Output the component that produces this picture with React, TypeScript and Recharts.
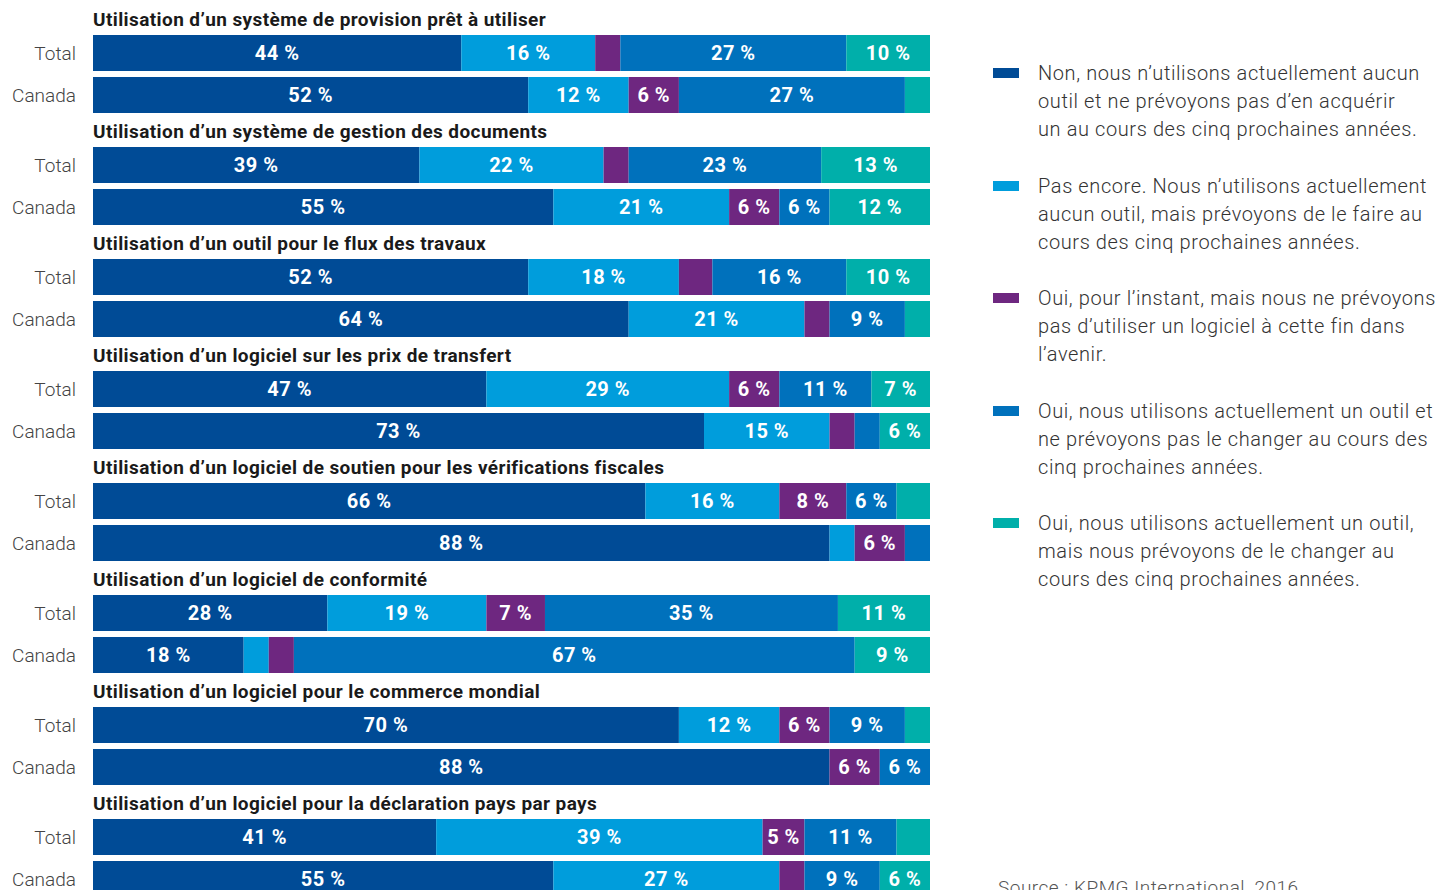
import { BarChart, Bar, XAxis, YAxis, LabelList } from 'recharts';

const titles = [
  'Utilisation d’un système de provision prêt à utiliser',
  'Utilisation d’un système de gestion des documents',
  'Utilisation d’un outil pour le flux des travaux',
  'Utilisation d’un logiciel sur les prix de transfert',
  'Utilisation d’un logiciel de soutien pour les vérifications fiscales',
  'Utilisation d’un logiciel de conformité',
  'Utilisation d’un logiciel pour le commerce mondial',
  'Utilisation d’un logiciel pour la déclaration pays par pays',
];

const rowNames = ['Total', 'Canada'];

// one value per bar, in order: group 1 Total, group 1 Canada, group 2 Total, ...
const non = [44, 52, 39, 55, 52, 64, 47, 73, 66, 88, 28, 18, 70, 88, 41, 55];
const pasEncore = [16, 12, 22, 21, 18, 21, 29, 15, 16, 3, 19, 3, 12, 0, 39, 27];
const ouiSansSuite = [3, 6, 3, 6, 4, 3, 6, 3, 8, 6, 7, 3, 6, 6, 5, 3];
const ouiGarde = [27, 27, 23, 6, 16, 9, 11, 3, 6, 3, 35, 67, 9, 6, 11, 9];
const ouiChange = [10, 3, 13, 12, 10, 3, 7, 6, 4, 0, 11, 9, 3, 0, 4, 6];

const series = [
  { key: 'non', values: non, color: '#004b96' },
  { key: 'pasEncore', values: pasEncore, color: '#009ddc' },
  { key: 'ouiSansSuite', values: ouiSansSuite, color: '#6e2780' },
  { key: 'ouiGarde', values: ouiGarde, color: '#0071bc' },
  { key: 'ouiChange', values: ouiChange, color: '#00afaa' },
];

const legendItems = [
  {
    color: '#004b96',
    lines: [
      'Non, nous n’utilisons actuellement aucun',
      'outil et ne prévoyons pas d’en acquérir',
      'un au cours des cinq prochaines années.',
    ],
  },
  {
    color: '#009ddc',
    lines: [
      'Pas encore. Nous n’utilisons actuellement',
      'aucun outil, mais prévoyons de le faire au',
      'cours des cinq prochaines années.',
    ],
  },
  {
    color: '#6e2780',
    lines: [
      'Oui, pour l’instant, mais nous ne prévoyons',
      'pas d’utiliser un logiciel à cette fin dans',
      'l’avenir.',
    ],
  },
  {
    color: '#0071bc',
    lines: [
      'Oui, nous utilisons actuellement un outil et',
      'ne prévoyons pas le changer au cours des',
      'cinq prochaines années.',
    ],
  },
  {
    color: '#00afaa',
    lines: [
      'Oui, nous utilisons actuellement un outil,',
      'mais nous prévoyons de le changer au',
      'cours des cinq prochaines années.',
    ],
  },
];

const FONT = 'Roboto, "Liberation Sans", sans-serif';

function groupData(g: number) {
  return rowNames.map((name, r) => {
    const row: Record<string, string | number> = { name };
    series.forEach((s) => {
      row[s.key] = s.values[g * 2 + r];
    });
    return row;
  });
}

function RowTick({ x, y, payload }: any) {
  return (
    <text
      x={x}
      y={y}
      textAnchor="end"
      dominantBaseline="central"
      fontFamily={FONT}
      fontWeight={300}
      fontSize={19}
      fill="#444"
    >
      {payload.value}
    </text>
  );
}

function SegmentLabel({ x, y, width, height, value }: any) {
  if (!value || value < 5) return null;
  return (
    <text
      x={x + width / 2}
      y={y + height / 2}
      textAnchor="middle"
      dominantBaseline="central"
      fontFamily={FONT}
      fontWeight={700}
      fontSize={20}
      letterSpacing={0.5}
      fill="#fff"
    >
      {`${value} %`}
    </text>
  );
}

function Group({ index }: { index: number }) {
  return (
    <div style={{ height: 112 }}>
      <div
        style={{
          height: 24,
          lineHeight: '24px',
          paddingLeft: 85,
          fontFamily: FONT,
          fontWeight: 700,
          fontSize: 19,
          letterSpacing: 0.4,
          color: '#1a1a1a',
          whiteSpace: 'nowrap',
        }}
      >
        {titles[index]}
      </div>
      <BarChart
        layout="vertical"
        width={922}
        height={84}
        data={groupData(index)}
        margin={{ top: 0, right: 0, bottom: 0, left: 0 }}
        barSize={36}
      >
        <XAxis type="number" domain={[0, 100]} hide />
        <YAxis
          type="category"
          dataKey="name"
          width={85}
          axisLine={false}
          tickLine={false}
          tickMargin={11}
          tick={<RowTick />}
        />
        {series.map((s) => (
          <Bar
            key={s.key}
            dataKey={s.key}
            stackId="a"
            fill={s.color}
            isAnimationActive={false}
          >
            <LabelList dataKey={s.key} content={<SegmentLabel />} />
          </Bar>
        ))}
      </BarChart>
    </div>
  );
}

export default function App() {
  return (
    <div style={{ position: 'relative', width: 1440, height: 900, background: '#fff' }}>
      <div style={{ position: 'absolute', left: 0, top: 0 }}>
        {titles.map((_t, i) => (
          <Group key={i} index={i} />
        ))}
      </div>
      {legendItems.map((item, i) => (
        <div
          key={i}
          style={{
            position: 'absolute',
            left: 985,
            top: 51 + i * 112.5,
            display: 'flex',
            fontFamily: FONT,
            fontWeight: 300,
            fontSize: 20,
            letterSpacing: 0.6,
            lineHeight: '28px',
            color: '#333',
          }}
        >
          <span
            style={{
              width: 26,
              height: 10,
              marginTop: 9,
              marginRight: 19,
              background: item.color,
              flexShrink: 0,
            }}
          />
          <div>
            {item.lines.map((l, j) => (
              <div key={j} style={{ whiteSpace: 'nowrap' }}>
                {l}
              </div>
            ))}
          </div>
        </div>
      ))}
      <div
        style={{
          position: 'absolute',
          left: 990,
          top: 868,
          fontFamily: FONT,
          fontWeight: 300,
          fontSize: 19,
          letterSpacing: 0.5,
          color: '#555',
          whiteSpace: 'nowrap',
        }}
      >
        Source : KPMG International, 2016
      </div>
    </div>
  );
}
